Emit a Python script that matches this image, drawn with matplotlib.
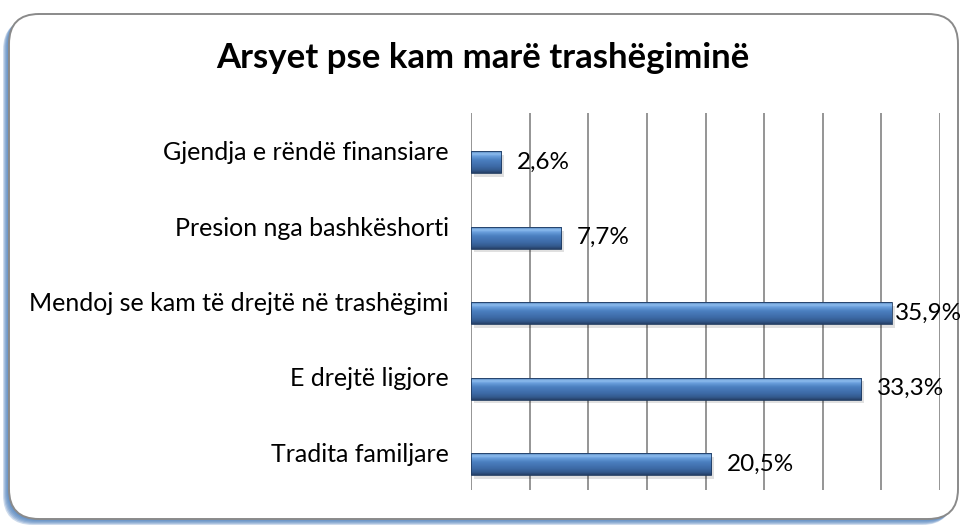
import matplotlib.pyplot as plt
import numpy as np
from matplotlib.colors import LinearSegmentedColormap
from matplotlib.patches import FancyBboxPatch, Rectangle
from matplotlib.transforms import IdentityTransform

plt.rcParams['font.family'] = ['Lato', 'DejaVu Sans']

# data (bottom to top, as drawn)
categories = ['Tradita familjare', 'E drejtë ligjore',
              'Mendoj se kam të drejtë në trashëgimi',
              'Presion nga bashkëshorti', 'Gjendja e rëndë finansiare']
values = [20.5, 33.3, 35.9, 7.7, 2.6]
value_labels = ['20,5%', '33,3%', '35,9%', '7,7%', '2,6%']
title = 'Arsyet pse kam marë trashëgiminë'

W, H = 963, 525
fig = plt.figure(figsize=(W / 100, H / 100), dpi=100)
fig.patch.set_facecolor('white')

# rounded frame with a blue shadow down-left
for k in range(6, 0, -1):
    sh = FancyBboxPatch((9 - k * 1.0, 6 - k * 1.0), 949, 505,
                        boxstyle='round,pad=0,rounding_size=30',
                        transform=IdentityTransform(), facecolor='#4F81BD',
                        edgecolor='none', alpha=0.28, zorder=0)
    fig.patches.append(sh)
frame = FancyBboxPatch((9, 6), 949, 505,
                       boxstyle='round,pad=0,rounding_size=30',
                       transform=IdentityTransform(), facecolor='white',
                       edgecolor='#8a8a8a', linewidth=1.4, zorder=1)
fig.patches.append(frame)

fig.text(0.501, 1 - 58 / H, title, ha='center', va='center',
         fontsize=25, fontweight='bold', color='black')

ax = fig.add_axes([471 / W, 1 - 490 / H, (940 - 471) / W, (490 - 113) / H])
ax.set_facecolor('none')
ax.set_zorder(2)

y = np.arange(len(categories))
bar_y = y - 0.155
bar_h = 0.29

cmap = LinearSegmentedColormap.from_list('bevel', [
    (0.0, '#253f66'), (0.12, '#33598c'), (0.3, '#3d6aa6'),
    (0.6, '#4b7fc0'), (0.78, '#6a9fdc'), (0.88, '#8ebdee'), (1.0, '#4f7fb8')])
grad = np.linspace(0, 1, 64).reshape(-1, 1)

bars = ax.barh(bar_y, values, height=bar_h, color='none', edgecolor='#1f3a60',
               linewidth=0.6, zorder=4)
for rect, v in zip(bars, values):
    x0, y0 = rect.get_x(), rect.get_y()
    # soft shadow
    ax.add_patch(Rectangle((x0 + 0.25, y0 - 0.05), v, bar_h, facecolor='#000000',
                           alpha=0.12, edgecolor='none', zorder=2))
    im = ax.imshow(grad, cmap=cmap, aspect='auto', origin='lower',
                   extent=(x0, x0 + v, y0, y0 + bar_h), zorder=3,
                   interpolation='bilinear')
    im.set_clip_path(rect)

vmax = max(values)
for yy, v, lab in zip(bar_y, values, value_labels):
    pad = 2 if v == vmax else 11
    ax.annotate(lab, (v, yy), xytext=(pad, 0), textcoords='offset points',
                ha='left', va='center', fontsize=17.5, color='black', zorder=5)

ax.set_xlim(0, 40)
ax.set_ylim(-0.5, len(categories) - 0.5)
ax.set_xticks(np.arange(0, 41, 5))
ax.xaxis.grid(True, color='#8c8c8c', linewidth=1.3)
ax.set_axisbelow(True)
ax.tick_params(axis='x', length=0, labelbottom=False)
ax.set_yticks(y)
ax.set_yticklabels(categories, fontsize=18)
ax.tick_params(axis='y', length=0, pad=16)
for s in ax.spines.values():
    s.set_visible(False)

fig.savefig('out.png', dpi=100)
